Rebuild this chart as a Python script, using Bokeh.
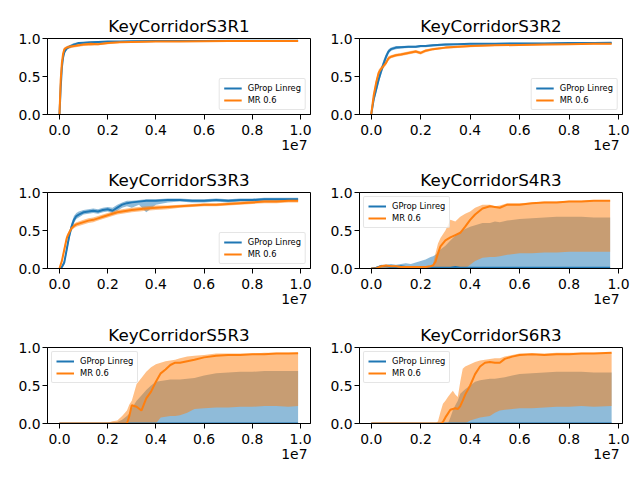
from bokeh.plotting import figure
from bokeh.layouts import column, row
from bokeh.models import Range1d, FixedTicker, Title, Legend
from bokeh.embed import file_html
from bokeh.resources import INLINE

# ---------------- data (x in units of 1e7 steps) ----------------
titles = ["KeyCorridorS3R1", "KeyCorridorS3R2", "KeyCorridorS3R3",
          "KeyCorridorS4R3", "KeyCorridorS5R3", "KeyCorridorS6R3"]
series_labels = ["GProp Linreg", "MR 0.6"]
x_tick_values = [0.0, 0.2, 0.4, 0.6, 0.8, 1.0]
x_tick_labels = ["0.0", "0.2", "0.4", "0.6", "0.8", "1.0"]
y_tick_values = [0.0, 0.5, 1.0]
y_tick_labels = ["0.0", "0.5", "1.0"]
offset_text = "1e7"

s3r1_x = [0, 0.005, 0.01, 0.015, 0.02, 0.03, 0.04, 0.06, 0.08, 0.1, 0.13, 0.16, 0.2, 0.25, 0.3, 0.4, 0.5, 0.6, 0.7, 0.8, 0.9, 0.99]
s3r1_gp_mean = [0.0, 0.35, 0.62, 0.75, 0.82, 0.87, 0.89, 0.92, 0.94, 0.945, 0.95, 0.955, 0.96, 0.962, 0.965, 0.968, 0.968, 0.968, 0.97, 0.97, 0.97, 0.97]
s3r1_gp_lo = [0.0, 0.3, 0.57, 0.71, 0.79, 0.85, 0.87, 0.9, 0.93, 0.935, 0.94, 0.945, 0.955, 0.957, 0.96, 0.963, 0.964, 0.964, 0.966, 0.966, 0.966, 0.966]
s3r1_gp_hi = [0.0, 0.4, 0.66, 0.79, 0.85, 0.89, 0.91, 0.94, 0.95, 0.955, 0.96, 0.965, 0.966, 0.967, 0.97, 0.972, 0.972, 0.972, 0.974, 0.974, 0.974, 0.974]
s3r1_mr_mean = [0.0, 0.45, 0.68, 0.8, 0.86, 0.88, 0.89, 0.9, 0.91, 0.92, 0.93, 0.925, 0.94, 0.95, 0.955, 0.96, 0.962, 0.965, 0.966, 0.967, 0.968, 0.968]
s3r1_mr_lo = [0.0, 0.4, 0.63, 0.76, 0.83, 0.86, 0.87, 0.88, 0.89, 0.9, 0.9, 0.91, 0.925, 0.94, 0.945, 0.955, 0.957, 0.96, 0.962, 0.963, 0.964, 0.964]
s3r1_mr_hi = [0.0, 0.5, 0.72, 0.83, 0.88, 0.9, 0.91, 0.92, 0.93, 0.935, 0.945, 0.94, 0.95, 0.96, 0.962, 0.965, 0.967, 0.969, 0.97, 0.971, 0.972, 0.972]

s3r2_x = [0, 0.01, 0.02, 0.03, 0.04, 0.05, 0.06, 0.07, 0.08, 0.1, 0.12, 0.15, 0.18, 0.2, 0.22, 0.25, 0.3, 0.35, 0.4, 0.5, 0.6, 0.7, 0.8, 0.9, 0.972]
s3r2_gp_mean = [0.0, 0.2, 0.33, 0.46, 0.57, 0.67, 0.76, 0.83, 0.86, 0.88, 0.885, 0.89, 0.89, 0.9, 0.9, 0.91, 0.92, 0.925, 0.93, 0.93, 0.935, 0.935, 0.94, 0.94, 0.945]
s3r2_gp_lo = [0.0, 0.15, 0.28, 0.41, 0.52, 0.62, 0.72, 0.8, 0.84, 0.86, 0.87, 0.875, 0.875, 0.885, 0.885, 0.895, 0.905, 0.915, 0.92, 0.92, 0.925, 0.925, 0.93, 0.93, 0.935]
s3r2_gp_hi = [0.0, 0.25, 0.38, 0.51, 0.62, 0.72, 0.8, 0.86, 0.88, 0.9, 0.9, 0.905, 0.905, 0.915, 0.915, 0.925, 0.935, 0.935, 0.94, 0.94, 0.945, 0.945, 0.95, 0.95, 0.955]
s3r2_mr_mean = [0.0, 0.25, 0.42, 0.55, 0.6, 0.64, 0.68, 0.74, 0.76, 0.78, 0.79, 0.81, 0.83, 0.81, 0.84, 0.86, 0.88, 0.89, 0.9, 0.91, 0.915, 0.92, 0.925, 0.93, 0.93]
s3r2_mr_lo = [0.0, 0.2, 0.38, 0.51, 0.57, 0.61, 0.65, 0.71, 0.74, 0.76, 0.77, 0.79, 0.81, 0.79, 0.82, 0.845, 0.865, 0.875, 0.885, 0.9, 0.905, 0.91, 0.915, 0.92, 0.92]
s3r2_mr_hi = [0.0, 0.3, 0.46, 0.59, 0.63, 0.67, 0.71, 0.77, 0.78, 0.8, 0.81, 0.83, 0.85, 0.83, 0.86, 0.875, 0.895, 0.905, 0.915, 0.92, 0.925, 0.93, 0.935, 0.94, 0.94]

s3r3_x = [0, 0.01, 0.02, 0.03, 0.04, 0.05, 0.06, 0.07, 0.08, 0.1, 0.12, 0.14, 0.16, 0.18, 0.2, 0.22, 0.24, 0.26, 0.28, 0.3, 0.33, 0.36, 0.4, 0.45, 0.5, 0.55, 0.6, 0.65, 0.7, 0.75, 0.8, 0.85, 0.9, 0.95, 0.99]
s3r3_gp_mean = [0.0, 0.02, 0.08, 0.25, 0.42, 0.55, 0.64, 0.69, 0.71, 0.74, 0.75, 0.76, 0.75, 0.77, 0.78, 0.76, 0.8, 0.84, 0.86, 0.87, 0.88, 0.89, 0.89, 0.9, 0.9, 0.89, 0.89, 0.9, 0.89, 0.9, 0.9, 0.91, 0.91, 0.91, 0.91]
s3r3_gp_lo = [0.0, 0.0, 0.05, 0.2, 0.37, 0.5, 0.6, 0.65, 0.67, 0.71, 0.72, 0.73, 0.72, 0.74, 0.75, 0.73, 0.76, 0.8, 0.82, 0.8, 0.84, 0.74, 0.84, 0.87, 0.88, 0.87, 0.87, 0.88, 0.87, 0.88, 0.88, 0.89, 0.89, 0.89, 0.89]
s3r3_gp_hi = [0.0, 0.04, 0.12, 0.3, 0.47, 0.6, 0.69, 0.73, 0.75, 0.77, 0.78, 0.79, 0.78, 0.8, 0.81, 0.8, 0.84, 0.87, 0.89, 0.89, 0.9, 0.91, 0.91, 0.92, 0.92, 0.91, 0.91, 0.92, 0.91, 0.92, 0.92, 0.93, 0.93, 0.93, 0.93]
s3r3_mr_mean = [0.0, 0.1, 0.25, 0.4, 0.47, 0.53, 0.56, 0.58, 0.59, 0.61, 0.63, 0.64, 0.66, 0.68, 0.7, 0.72, 0.74, 0.75, 0.76, 0.77, 0.78, 0.79, 0.8, 0.81, 0.82, 0.83, 0.84, 0.84, 0.85, 0.86, 0.87, 0.88, 0.88, 0.89, 0.89]
s3r3_mr_lo = [0.0, 0.07, 0.21, 0.36, 0.44, 0.5, 0.53, 0.55, 0.56, 0.58, 0.6, 0.61, 0.63, 0.65, 0.67, 0.69, 0.71, 0.72, 0.73, 0.74, 0.75, 0.76, 0.77, 0.78, 0.8, 0.81, 0.82, 0.82, 0.83, 0.84, 0.85, 0.86, 0.86, 0.87, 0.87]
s3r3_mr_hi = [0.0, 0.13, 0.29, 0.44, 0.5, 0.56, 0.59, 0.61, 0.62, 0.64, 0.66, 0.67, 0.69, 0.71, 0.73, 0.75, 0.77, 0.78, 0.79, 0.8, 0.81, 0.82, 0.83, 0.83, 0.84, 0.85, 0.86, 0.86, 0.87, 0.88, 0.89, 0.9, 0.9, 0.91, 0.91]

s4r3_x = [0, 0.02, 0.04, 0.06, 0.08, 0.1, 0.12, 0.14, 0.16, 0.18, 0.2, 0.22, 0.24, 0.25, 0.26, 0.27, 0.28, 0.3, 0.32, 0.34, 0.36, 0.38, 0.4, 0.42, 0.45, 0.48, 0.5, 0.52, 0.55, 0.6, 0.65, 0.7, 0.75, 0.8, 0.85, 0.9, 0.966]
s4r3_gp_mean = [0.0, 0.01, 0.03, 0.03, 0.02, 0.02, 0.03, 0.02, 0.02, 0.02, 0.02, 0.02, 0.01, 0.01, 0.01, 0.01, 0.01, 0.01, 0.01, 0.02, 0.01, 0.01, 0.01, 0.01, 0.01, 0.01, 0.01, 0.01, 0.01, 0.01, 0.01, 0.01, 0.01, 0.01, 0.01, 0.01, 0.01]
s4r3_gp_lo = [0.0] * 37
s4r3_gp_hi = [0.0, 0.02, 0.05, 0.05, 0.06, 0.05, 0.06, 0.07, 0.06, 0.08, 0.1, 0.12, 0.15, 0.16, 0.18, 0.21, 0.25, 0.3, 0.37, 0.43, 0.48, 0.52, 0.55, 0.57, 0.6, 0.6, 0.62, 0.61, 0.63, 0.65, 0.66, 0.67, 0.68, 0.68, 0.68, 0.67, 0.67]
s4r3_mr_mean = [0.0, 0.0, 0.03, 0.04, 0.03, 0.03, 0.02, 0.02, 0.02, 0.02, 0.02, 0.02, 0.03, 0.04, 0.09, 0.2, 0.29, 0.37, 0.41, 0.44, 0.47, 0.55, 0.64, 0.71, 0.79, 0.82, 0.81, 0.8, 0.84, 0.84, 0.86, 0.87, 0.87, 0.88, 0.88, 0.89, 0.89]
s4r3_mr_lo = [0.0, 0.0, 0.0, 0.0, 0.0, 0.0, 0.0, 0.0, 0.0, 0.0, 0.0, 0.0, 0.0, 0.0, 0.0, 0.0, 0.0, 0.0, 0.0, 0.0, 0.0, 0.0, 0.05, 0.1, 0.14, 0.15, 0.15, 0.16, 0.18, 0.2, 0.2, 0.21, 0.21, 0.22, 0.22, 0.22, 0.22]
s4r3_mr_hi = [0.0, 0.01, 0.04, 0.05, 0.04, 0.04, 0.03, 0.03, 0.03, 0.03, 0.03, 0.03, 0.04, 0.06, 0.2, 0.33, 0.4, 0.5, 0.64, 0.62, 0.68, 0.72, 0.75, 0.8, 0.84, 0.84, 0.82, 0.83, 0.86, 0.86, 0.87, 0.88, 0.88, 0.89, 0.89, 0.9, 0.9]

s5r3_x = [0, 0.05, 0.1, 0.15, 0.2, 0.22, 0.24, 0.26, 0.28, 0.29, 0.3, 0.32, 0.34, 0.36, 0.38, 0.4, 0.42, 0.44, 0.46, 0.48, 0.5, 0.53, 0.56, 0.6, 0.65, 0.7, 0.75, 0.8, 0.85, 0.9, 0.95, 0.99]
s5r3_gp_mean = [0.0] * 32
s5r3_gp_lo = [0.0] * 32
s5r3_gp_hi = [0.0, 0.0, 0.0, 0.0, 0.0, 0.01, 0.02, 0.05, 0.1, 0.13, 0.2, 0.3, 0.37, 0.44, 0.5, 0.55, 0.56, 0.57, 0.58, 0.58, 0.58, 0.59, 0.6, 0.63, 0.66, 0.67, 0.68, 0.68, 0.69, 0.69, 0.69, 0.69]
s5r3_mr_mean = [0.0, 0.0, 0.0, 0.0, 0.0, 0.0, 0.0, 0.0, 0.0, 0.1, 0.24, 0.22, 0.17, 0.33, 0.42, 0.55, 0.66, 0.71, 0.77, 0.8, 0.8, 0.82, 0.84, 0.87, 0.89, 0.9, 0.9, 0.91, 0.91, 0.92, 0.92, 0.925]
s5r3_mr_lo = [0.0, 0.0, 0.0, 0.0, 0.0, 0.0, 0.0, 0.0, 0.0, 0.0, 0.0, 0.0, 0.0, 0.0, 0.0, 0.0, 0.08, 0.09, 0.1, 0.1, 0.11, 0.14, 0.19, 0.2, 0.21, 0.21, 0.22, 0.22, 0.23, 0.23, 0.22, 0.23]
s5r3_mr_hi = [0.0, 0.0, 0.0, 0.0, 0.01, 0.03, 0.04, 0.1, 0.17, 0.25, 0.3, 0.52, 0.6, 0.68, 0.74, 0.78, 0.8, 0.82, 0.83, 0.84, 0.86, 0.88, 0.89, 0.9, 0.92, 0.92, 0.92, 0.92, 0.93, 0.93, 0.93, 0.93]

s6r3_x = [0, 0.1, 0.2, 0.26, 0.27, 0.28, 0.29, 0.3, 0.31, 0.32, 0.33, 0.34, 0.35, 0.36, 0.37, 0.38, 0.4, 0.42, 0.44, 0.46, 0.48, 0.5, 0.52, 0.54, 0.57, 0.6, 0.65, 0.7, 0.75, 0.8, 0.85, 0.9, 0.972]
s6r3_gp_mean = [0.0] * 33
s6r3_gp_lo = [0.0] * 33
s6r3_gp_hi = [0.0, 0.0, 0.0, 0.0, 0.0, 0.0, 0.0, 0.0, 0.0, 0.08, 0.17, 0.24, 0.3, 0.39, 0.42, 0.45, 0.5, 0.55, 0.57, 0.58, 0.59, 0.59, 0.6, 0.61, 0.63, 0.65, 0.66, 0.67, 0.68, 0.68, 0.68, 0.67, 0.67]
s6r3_mr_mean = [0.0, 0.0, 0.0, 0.0, 0.0, 0.0, 0.02, 0.08, 0.13, 0.18, 0.19, 0.2, 0.19, 0.23, 0.3, 0.38, 0.5, 0.65, 0.75, 0.8, 0.81, 0.8, 0.8, 0.85, 0.88, 0.9, 0.91, 0.9, 0.91, 0.91, 0.92, 0.92, 0.93]
s6r3_mr_lo = [0.0, 0.0, 0.0, 0.0, 0.0, 0.0, 0.0, 0.0, 0.0, 0.0, 0.0, 0.0, 0.0, 0.0, 0.0, 0.0, 0.04, 0.06, 0.08, 0.09, 0.1, 0.14, 0.17, 0.18, 0.19, 0.2, 0.2, 0.21, 0.22, 0.22, 0.23, 0.22, 0.23]
s6r3_mr_hi = [0.0, 0.0, 0.0, 0.0, 0.03, 0.15, 0.26, 0.3, 0.35, 0.39, 0.43, 0.38, 0.35, 0.55, 0.72, 0.75, 0.78, 0.81, 0.83, 0.84, 0.85, 0.86, 0.86, 0.88, 0.9, 0.92, 0.92, 0.92, 0.93, 0.93, 0.93, 0.93, 0.93]

# ---------------- styling ----------------
BLUE = "#1f77b4"
ORANGE = "#ff7f0e"
FONT = "DejaVu Sans"

panels = [
    (s3r1_x, s3r1_gp_mean, s3r1_gp_lo, s3r1_gp_hi, s3r1_mr_mean, s3r1_mr_lo, s3r1_mr_hi, "bottom_right"),
    (s3r2_x, s3r2_gp_mean, s3r2_gp_lo, s3r2_gp_hi, s3r2_mr_mean, s3r2_mr_lo, s3r2_mr_hi, "bottom_right"),
    (s3r3_x, s3r3_gp_mean, s3r3_gp_lo, s3r3_gp_hi, s3r3_mr_mean, s3r3_mr_lo, s3r3_mr_hi, "bottom_right"),
    (s4r3_x, s4r3_gp_mean, s4r3_gp_lo, s4r3_gp_hi, s4r3_mr_mean, s4r3_mr_lo, s4r3_mr_hi, "top_left"),
    (s5r3_x, s5r3_gp_mean, s5r3_gp_lo, s5r3_gp_hi, s5r3_mr_mean, s5r3_mr_lo, s5r3_mr_hi, "top_left"),
    (s6r3_x, s6r3_gp_mean, s6r3_gp_lo, s6r3_gp_hi, s6r3_mr_mean, s6r3_mr_lo, s6r3_mr_hi, "top_left"),
]

fig_heights = [163, 155, 153]
border_tops = [38, 29, 29]
border_bottoms = [49, 50, 48]
border_lefts = [47, 39]
fig_widths = [320, 312]
x_ranges = [(-0.0497, 1.0415), (-0.0474, 1.016)]
HAS_RADIUS = "border_radius" in Legend.properties()


def make_panel(i):
    x, gm, glo, ghi, mm, mlo, mhi, loc = panels[i]
    r, c = divmod(i, 2)
    p = figure(width=fig_widths[c], height=fig_heights[r], output_backend="svg",
               toolbar_location=None, tools="",
               x_range=Range1d(*x_ranges[c]), y_range=Range1d(0, 1),
               min_border_left=border_lefts[c], min_border_right=10,
               min_border_top=border_tops[r], min_border_bottom=border_bottoms[r])
    p.title.text = titles[i]
    p.title.text_font = FONT
    p.title.text_font_size = "16.7px"
    p.title.text_font_style = "normal"
    p.title.text_color = "black"
    p.title.align = "center"
    p.title.standoff = 6
    p.xgrid.visible = False
    p.ygrid.visible = False
    p.outline_line_color = "black"
    p.outline_line_width = 1
    p.outline_line_alpha = 1
    p.background_fill_color = "white"
    p.border_fill_color = "white"

    p.varea(x=x, y1=glo, y2=ghi, fill_color=BLUE, fill_alpha=0.5)
    p.varea(x=x, y1=mlo, y2=mhi, fill_color=ORANGE, fill_alpha=0.5)
    p.line(x, gm, line_color=BLUE, line_width=2, legend_label=series_labels[0])
    p.line(x, mm, line_color=ORANGE, line_width=2, legend_label=series_labels[1])

    for ax in (p.xaxis[0], p.yaxis[0]):
        ax.axis_line_color = "black"
        ax.major_tick_line_color = "black"
        ax.minor_tick_line_color = None
        ax.major_tick_out = 5
        ax.major_tick_in = 0
        ax.major_label_text_font = FONT
        ax.major_label_text_font_size = "13.9px"
        ax.major_label_text_color = "black"
    p.xaxis.ticker = FixedTicker(ticks=x_tick_values)
    p.xaxis.major_label_overrides = dict(zip(x_tick_values, x_tick_labels))
    p.xaxis.major_label_standoff = 5
    p.yaxis.ticker = FixedTicker(ticks=y_tick_values)
    p.yaxis.major_label_overrides = dict(zip(y_tick_values, y_tick_labels))
    p.yaxis.major_label_standoff = 2

    off = Title(text=offset_text, align="right", text_font=FONT,
                text_font_size="13.9px", text_font_style="normal",
                text_color="black", standoff=0, offset=3)
    p.add_layout(off, "below")

    lg = p.legend[0]
    lg.location = loc
    lg.label_text_font = FONT
    lg.label_text_font_size = "8.3px"
    lg.label_text_color = "black"
    lg.glyph_width = 18
    lg.glyph_height = 10
    lg.label_height = 10
    lg.spacing = 2
    lg.padding = 4
    lg.margin = 4
    lg.label_standoff = 6
    lg.border_line_color = "#cccccc"
    lg.border_line_width = 1
    lg.background_fill_alpha = 0.8
    if HAS_RADIUS:
        lg.border_radius = 2
    return p


figs = [make_panel(i) for i in range(6)]
layout = column(row(figs[0], figs[1]), row(figs[2], figs[3]), row(figs[4], figs[5]))

open("out.html", "w").write(file_html(layout, INLINE))
